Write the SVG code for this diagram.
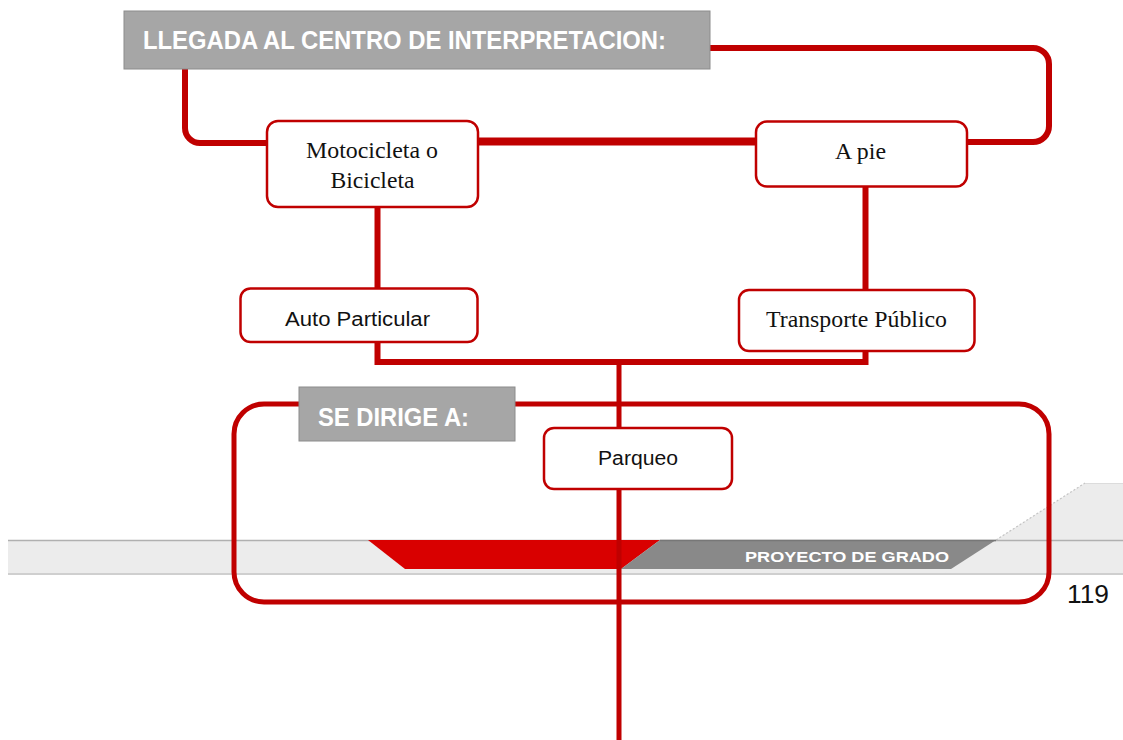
<svg xmlns="http://www.w3.org/2000/svg" width="1123" height="740" viewBox="0 0 1123 740">
<style>
.ln{fill:none;stroke:#c00000;stroke-width:6;stroke-linejoin:round}
.box{fill:#ffffff;stroke:#c00000;stroke-width:2.5}
.hdr{fill:#a6a6a6;stroke:#8c8c8c;stroke-width:1}
.ht{font-family:"Liberation Sans",Arial,sans-serif;font-weight:bold;fill:#ffffff}
.tr{font-family:"Liberation Serif","Times New Roman",serif;font-size:23px;fill:#111111}
.sn{font-family:"Liberation Sans",Arial,sans-serif;font-size:20px;fill:#111111}
</style>
<rect width="1123" height="740" fill="#ffffff"/>
<g id="footer">
<rect x="8" y="540" width="1115" height="33" fill="#ececec"/>
<polygon points="944,573 1085,483 1123,483 1123,573" fill="#ececec"/>
<line x1="996" y1="540" x2="1085" y2="483" stroke="#c4c4c4" stroke-width="1.2" stroke-dasharray="2,2"/>
<line x1="1085" y1="483.5" x2="1123" y2="483.5" stroke="#dcdcdc" stroke-width="1"/>
<line x1="8" y1="540.5" x2="1123" y2="540.5" stroke="#b0b0b0" stroke-width="1.5"/>
<line x1="8" y1="574" x2="1123" y2="574" stroke="#cfcfcf" stroke-width="2"/>
<polygon points="368,540 660,540 621,569 405,569" fill="#d90000"/>
<polygon points="660,540 996,540 951,569 621,569" fill="#898989"/>
<line x1="660" y1="540.5" x2="996" y2="540.5" stroke="#777777" stroke-width="1.5"/>
<text x="745" y="562" class="ht" font-size="15" fill="#f4f4f4" textLength="204" lengthAdjust="spacingAndGlyphs">PROYECTO DE GRADO</text>
<text x="1067" y="603" font-family="Liberation Sans,Arial,sans-serif" font-size="25" fill="#111111" textLength="42" lengthAdjust="spacingAndGlyphs">119</text>
</g>
<g id="connectors">
<path class="ln" d="M185,69 V128 A15,15 0 0 0 200,143 H267"/>
<path class="ln" d="M710,48 H1033 A16,16 0 0 1 1049,64 V126 A16,16 0 0 1 1033,142 H967"/>
<path class="ln" style="stroke-width:8" d="M477,141.5 H756"/>
<path class="ln" d="M377.5,207 V289"/>
<path class="ln" d="M865.5,187 V291"/>
<path class="ln" style="stroke-linejoin:miter" d="M377.5,342 V362 H865.5 V351"/>
<path class="ln" style="stroke-width:5" d="M619,362 V740"/>
</g>
<g id="se-dirige-container">
<rect x="234" y="404" width="815" height="198" rx="30" ry="30" fill="none" stroke="#c00000" stroke-width="5"/>
</g>
<g id="header-llegada">
<rect class="hdr" x="124" y="11" width="586" height="58"/>
<text class="ht" x="143" y="49" font-size="25" textLength="523" lengthAdjust="spacingAndGlyphs">LLEGADA AL CENTRO DE INTERPRETACION:</text>
</g>
<g id="node-moto">
<rect class="box" x="267" y="121" width="211" height="86" rx="11"/>
<text class="tr" x="306" y="158" textLength="132" lengthAdjust="spacingAndGlyphs">Motocicleta o</text>
<text class="tr" x="330.5" y="188" textLength="84" lengthAdjust="spacingAndGlyphs">Bicicleta</text>
</g>
<g id="node-apie">
<rect class="box" x="756" y="121.5" width="211" height="65" rx="11"/>
<text class="tr" x="835" y="159" textLength="51" lengthAdjust="spacingAndGlyphs">A pie</text>
</g>
<g id="node-auto">
<rect class="box" x="240.5" y="288.5" width="237" height="53.5" rx="10"/>
<text class="sn" x="285" y="326" textLength="145" lengthAdjust="spacingAndGlyphs">Auto Particular</text>
</g>
<g id="node-transporte">
<rect class="box" x="739" y="290" width="235.5" height="61" rx="10"/>
<text class="tr" x="766" y="327" textLength="181" lengthAdjust="spacingAndGlyphs">Transporte Público</text>
</g>
<g id="header-sedirige">
<rect class="hdr" x="299" y="387" width="216" height="54"/>
<text class="ht" x="318" y="426" font-size="25" textLength="151" lengthAdjust="spacingAndGlyphs">SE DIRIGE A:</text>
</g>
<g id="node-parqueo">
<rect class="box" x="544" y="428" width="188" height="61" rx="10"/>
<text class="sn" x="598" y="464.5" textLength="80" lengthAdjust="spacingAndGlyphs">Parqueo</text>
</g>
</svg>
